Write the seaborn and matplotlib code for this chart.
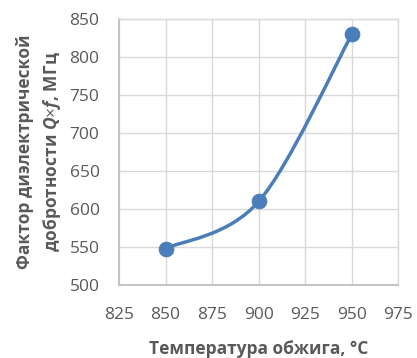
import numpy as np
import pandas as pd
import matplotlib
matplotlib.use("Agg")
import matplotlib.pyplot as plt
from matplotlib.path import Path
from matplotlib.patches import PathPatch
import seaborn as sns

# Firing temperature (°C) and dielectric quality factor Q×f (MHz)
temperature = [850, 900, 950]
qf = [548, 610, 830]

x_ticks = [825, 850, 875, 900, 925, 950, 975]
y_ticks = [500, 550, 600, 650, 700, 750, 800, 850]

LINE = "#4a7ebb"
GRID = "#d9d9d9"
AXIS = "#bfbfbf"
TEXT = "#595959"

sns.set_theme(style="white")
plt.rcParams["font.family"] = ["Open Sans", "DejaVu Sans"]
plt.rcParams["mathtext.fontset"] = "custom"
plt.rcParams["mathtext.it"] = "Open Sans:italic:bold"
plt.rcParams["mathtext.rm"] = "Open Sans"
plt.rcParams["mathtext.bf"] = "Open Sans:bold"

fig = plt.figure(figsize=(4.17, 3.58), dpi=100)
ax = fig.add_axes([0.2854, 0.2039, 0.9556 - 0.2854, 0.9469 - 0.2039])

ax.set_xlim(x_ticks[0], x_ticks[-1])
ax.set_ylim(y_ticks[0], y_ticks[-1])

# Smoothed connecting line (cubic Bezier segments, Catmull-Rom style tangents)
df = pd.DataFrame({"t": temperature, "q": qf})
sx = 281.0 / (x_ticks[-1] - x_ticks[0])
sy = 266.0 / (y_ticks[-1] - y_ticks[0])
pts = np.column_stack([df["t"] * sx, df["q"] * sy])
n = len(pts)
verts = [tuple(pts[0])]
codes = [Path.MOVETO]
for i in range(n - 1):
    p0 = pts[i - 1] if i > 0 else pts[i]
    p1 = pts[i]
    p2 = pts[i + 1]
    p3 = pts[i + 2] if i + 2 < n else pts[i + 1]
    c1 = p1 + (p2 - p0) / 6.0
    c2 = p2 - (p3 - p1) / 6.0
    verts += [tuple(c1), tuple(c2), tuple(p2)]
    codes += [Path.CURVE4] * 3
verts = [(vx / sx, vy / sy) for vx, vy in verts]
ax.add_patch(PathPatch(Path(verts, codes), facecolor="none", edgecolor=LINE,
                       lw=2.5, capstyle="round", zorder=3))

sns.scatterplot(data=df, x="t", y="q", ax=ax, s=110, color=LINE,
                edgecolor=LINE, linewidth=0.8, zorder=4, legend=False)

ax.set_xticks(x_ticks)
ax.set_yticks(y_ticks)
ax.set_xticklabels([str(v) for v in x_ticks])
ax.set_yticklabels([str(v) for v in y_ticks])
ax.grid(True, color=GRID, lw=1.0)
ax.set_axisbelow(True)

for side in ["top", "right"]:
    ax.spines[side].set_color(GRID)
    ax.spines[side].set_linewidth(1.0)
for side in ["left", "bottom"]:
    ax.spines[side].set_color(AXIS)
    ax.spines[side].set_linewidth(1.3)

ax.tick_params(axis="both", direction="out", length=5, width=1.2, color=AXIS,
               labelcolor=TEXT, labelsize=12.5)
ax.tick_params(axis="x", pad=11)
ax.tick_params(axis="y", pad=9)

ax.set_xlabel("Температура обжига, °С", fontsize=12.5, fontweight="bold",
              color=TEXT, labelpad=12)
ax.set_ylabel("Фактор диэлектрической\nдобротности $Q{\\times}f$, МГц",
              fontsize=12.5, fontweight="bold", color=TEXT, labelpad=5,
              linespacing=1.4)

fig.savefig("out.png", dpi=100, facecolor="white")
